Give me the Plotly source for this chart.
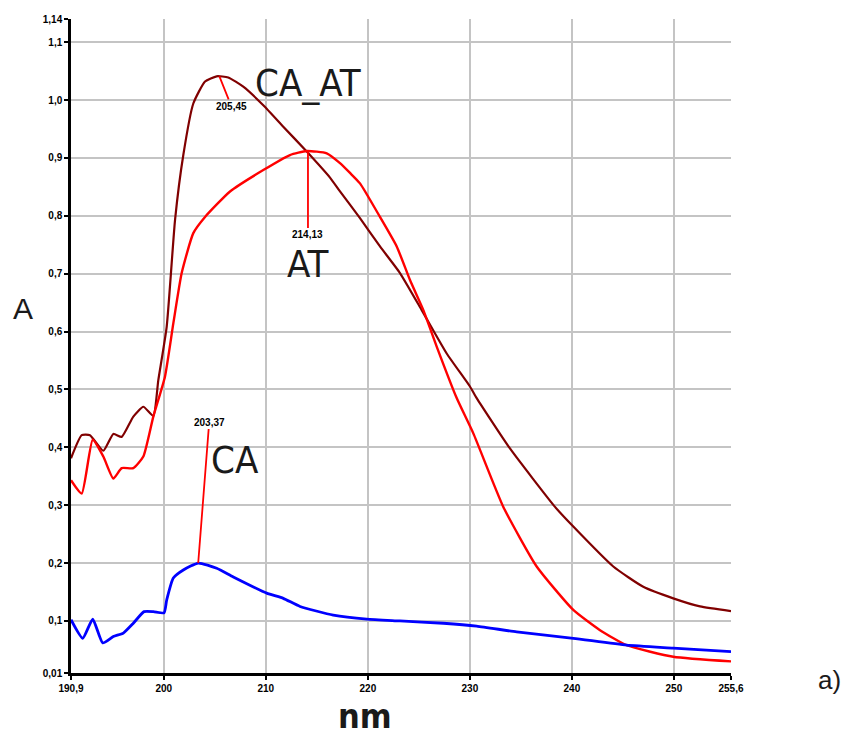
import plotly.graph_objects as go

# ---- data (wavelength nm, absorbance A) ----
ca_at_x = [190.90, 191.95, 192.76, 194.07, 195.05, 195.87, 197.01, 197.99, 198.97, 199.46,
           200.28, 201.10, 201.91, 202.89, 204.04, 205.18, 206.32, 207.79, 209.75, 211.71,
           214.01, 216.29, 217.27, 219.23, 221.19, 223.15, 225.28, 227.73, 230.01, 230.67,
           233.93, 238.35, 240.14, 244.06, 247.00, 249.94, 252.56, 255.60]
ca_at_y = [0.381, 0.421, 0.421, 0.394, 0.423, 0.418, 0.453, 0.470, 0.454, 0.516,
           0.608, 0.793, 0.905, 0.994, 1.032, 1.041, 1.039, 1.023, 0.991, 0.954,
           0.911, 0.866, 0.842, 0.796, 0.747, 0.701, 0.637, 0.562, 0.505, 0.485,
           0.398, 0.297, 0.263, 0.194, 0.159, 0.139, 0.125, 0.117]

at_x = [190.90, 191.95, 193.03, 194.07, 195.05, 195.87, 197.01, 197.99, 198.97, 200.11,
        200.93, 201.75, 202.89, 204.04, 206.49, 209.75, 212.37, 214.01, 215.97, 217.27,
        218.25, 219.23, 221.19, 222.83, 224.13, 225.44, 226.75, 228.71, 230.34, 233.28,
        236.55, 240.14, 242.76, 245.37, 249.94, 255.60]
at_y = [0.343, 0.320, 0.413, 0.384, 0.346, 0.364, 0.364, 0.384, 0.453, 0.522,
        0.614, 0.701, 0.770, 0.798, 0.842, 0.879, 0.905, 0.912, 0.908, 0.891,
        0.874, 0.856, 0.798, 0.747, 0.689, 0.637, 0.574, 0.485, 0.424, 0.297,
        0.194, 0.119, 0.084, 0.058, 0.038, 0.030]

ca_x = [190.90, 192.05, 193.03, 194.01, 195.05, 196.03, 197.01, 198.06, 198.97, 200.02,
        200.28, 200.93, 201.91, 203.38, 205.18, 206.81, 210.08, 211.71, 213.35, 216.61,
        219.89, 223.15, 227.40, 230.67, 234.59, 240.14, 245.37, 249.94, 255.60]
ca_y = [0.102, 0.070, 0.103, 0.062, 0.073, 0.079, 0.096, 0.116, 0.116, 0.114,
        0.136, 0.174, 0.188, 0.200, 0.191, 0.176, 0.148, 0.139, 0.125, 0.110,
        0.103, 0.100, 0.096, 0.091, 0.081, 0.070, 0.058, 0.053, 0.047]

# peak markers
peak_x = [205.45, 214.13, 203.37]
peak_y = [1.041, 0.912, 0.200]
peak_labels = ["205,45", "214,13", "203,37"]

# series labels
series_names = ["CA_AT", "AT", "CA"]
series_label_x = [214.13, 214.13, 206.98]
series_label_y = [1.030, 0.717, 0.378]

x_tickvals = [190.9, 200, 210, 220, 230, 240, 250, 255.6]
x_ticktext = ["190,9", "200", "210", "220", "230", "240", "250", "255,6"]
y_tickvals = [0.01, 0.1, 0.2, 0.3, 0.4, 0.5, 0.6, 0.7, 0.8, 0.9, 1.0, 1.1, 1.14]
y_ticktext = ["0,01", "0,1", "0,2", "0,3", "0,4", "0,5", "0,6", "0,7", "0,8", "0,9", "1,0", "1,1", "1,14"]

fig = go.Figure()
fig.add_trace(go.Scatter(x=ca_at_x, y=ca_at_y, mode="lines",
                         line=dict(color="#800000", width=2.2, shape="spline", smoothing=0.5), name="CA_AT"))
fig.add_trace(go.Scatter(x=at_x, y=at_y, mode="lines",
                         line=dict(color="#ff0000", width=2.4, shape="spline", smoothing=0.5), name="AT"))
fig.add_trace(go.Scatter(x=ca_x, y=ca_y, mode="lines",
                         line=dict(color="#0000ff", width=2.8, shape="spline", smoothing=0.5), name="CA"))

narrow = "DejaVu Sans Condensed, Liberation Sans"
annotations = []
offsets = [(12, 30), (0, 84), (11, -141)]
for px, py, lab, (ax, ay) in zip(peak_x, peak_y, peak_labels, offsets):
    annotations.append(dict(x=px, y=py, xref="x", yref="y", text=lab, showarrow=True,
                            arrowhead=0, arrowcolor="#ff0000", arrowwidth=1.8,
                            ax=ax, ay=ay, font=dict(family="Liberation Sans", size=10, color="black", weight="bold")))
for nm, lx, ly in zip(series_names, series_label_x, series_label_y):
    annotations.append(dict(x=lx, y=ly, xref="x", yref="y", text=nm, showarrow=False,
                            xanchor="center", yanchor="middle",
                            font=dict(family=narrow, size=38, color="#1a1a1a")))
annotations.append(dict(x=-0.0727, y=0.5566, xref="paper", yref="paper", text="A", showarrow=False,
                        xanchor="center", yanchor="middle", font=dict(family="Liberation Sans", size=30, color="#1a1a1a")))
annotations.append(dict(x=0.4455, y=-0.066, xref="paper", yref="paper", text="nm", showarrow=False,
                        xanchor="center", yanchor="middle", font=dict(family=narrow, size=34, color="#1a1a1a", weight="bold")))
annotations.append(dict(x=1.15, y=-0.0107, xref="paper", yref="paper", text="a)", showarrow=False,
                        xanchor="center", yanchor="middle", font=dict(family="Liberation Sans", size=26, color="#1a1a1a")))

tickfont = dict(family="Liberation Sans", size=10, color="black", weight="bold")
fig.update_layout(
    width=850, height=738,
    margin=dict(l=71, r=119, t=19, b=65),
    paper_bgcolor="white", plot_bgcolor="white",
    showlegend=False,
    annotations=annotations,
    xaxis=dict(range=[190.9, 255.6], tickvals=x_tickvals, ticktext=x_ticktext, tickfont=tickfont,
               showline=True, linecolor="black", linewidth=2.5, ticks="outside", ticklen=4,
               tickwidth=2, tickcolor="black", showgrid=True, gridcolor="#c4c4c4", gridwidth=2,
               zeroline=False),
    yaxis=dict(range=[0.01, 1.14], tickvals=y_tickvals, ticktext=y_ticktext, tickfont=tickfont,
               showline=True, linecolor="black", linewidth=2.5, ticks="outside", ticklen=4,
               tickwidth=2, tickcolor="black", showgrid=True, gridcolor="#c4c4c4", gridwidth=2,
               zeroline=False),
)

fig.write_html("out.html")
